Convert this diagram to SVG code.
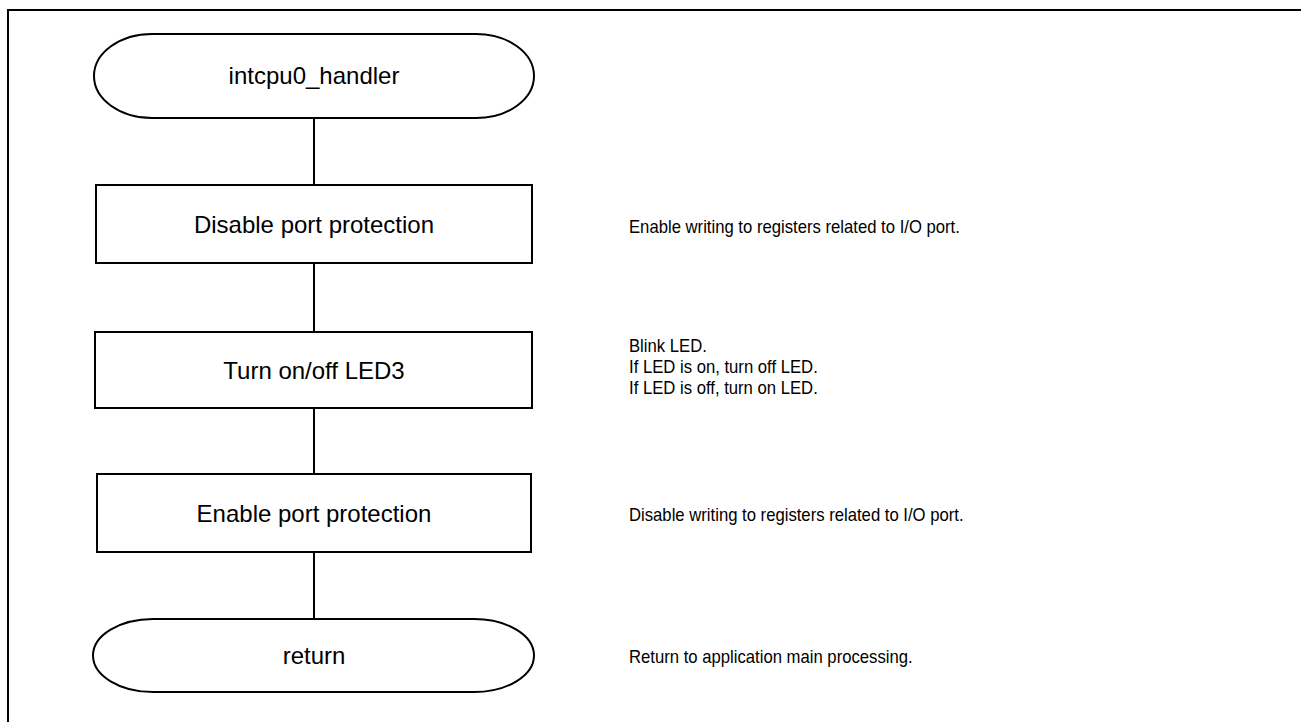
<svg xmlns="http://www.w3.org/2000/svg" width="1301" height="722" viewBox="0 0 1301 722">
<style>
.sh{fill:#fff;stroke:#000;stroke-width:2}
.ln{stroke:#000;stroke-width:2;fill:none}
.t{font-family:"Liberation Sans",Arial,sans-serif;font-size:24px;fill:#000}
.n{font-family:"Liberation Sans",Arial,sans-serif;font-size:18px;fill:#000}
.c{text-anchor:middle}
</style>
<rect x="0" y="0" width="1301" height="722" fill="#fff"/>
<rect x="8" y="10" width="1320" height="730" class="ln"/>
<g id="connectors">
<line x1="314" y1="118" x2="314" y2="185" class="ln"/>
<line x1="314" y1="263" x2="314" y2="332" class="ln"/>
<line x1="314" y1="408" x2="314" y2="474" class="ln"/>
<line x1="314" y1="552" x2="314" y2="619" class="ln"/>
</g>
<g id="start">
<rect x="94" y="34" width="440" height="84" rx="58" ry="42" class="sh"/>
<text x="314" y="84" class="t c">intcpu0_handler</text>
</g>
<g id="disable">
<rect x="96" y="185" width="436" height="78" class="sh"/>
<text x="314" y="233" class="t c">Disable port protection</text>
</g>
<g id="toggle">
<rect x="95" y="332" width="437" height="76" class="sh"/>
<text x="314" y="379" class="t c">Turn on/off LED3</text>
</g>
<g id="enable">
<rect x="97" y="474" width="434" height="78" class="sh"/>
<text x="314" y="522" class="t c">Enable port protection</text>
</g>
<g id="return">
<rect x="93" y="619" width="441" height="73" rx="60" ry="36.5" class="sh"/>
<text x="314" y="664" class="t c">return</text>
</g>
<g id="notes" transform="translate(629,0) scale(0.927,1)">
<text x="0" y="233" class="n">Enable writing to registers related to I/O port.</text>
<text x="0" y="352" class="n">Blink LED.</text>
<text x="0" y="373" class="n">If LED is on, turn off LED.</text>
<text x="0" y="394" class="n">If LED is off, turn on LED.</text>
<text x="0" y="521" class="n">Disable writing to registers related to I/O port.</text>
<text x="0" y="663" class="n">Return to application main processing.</text>
</g>
</svg>
